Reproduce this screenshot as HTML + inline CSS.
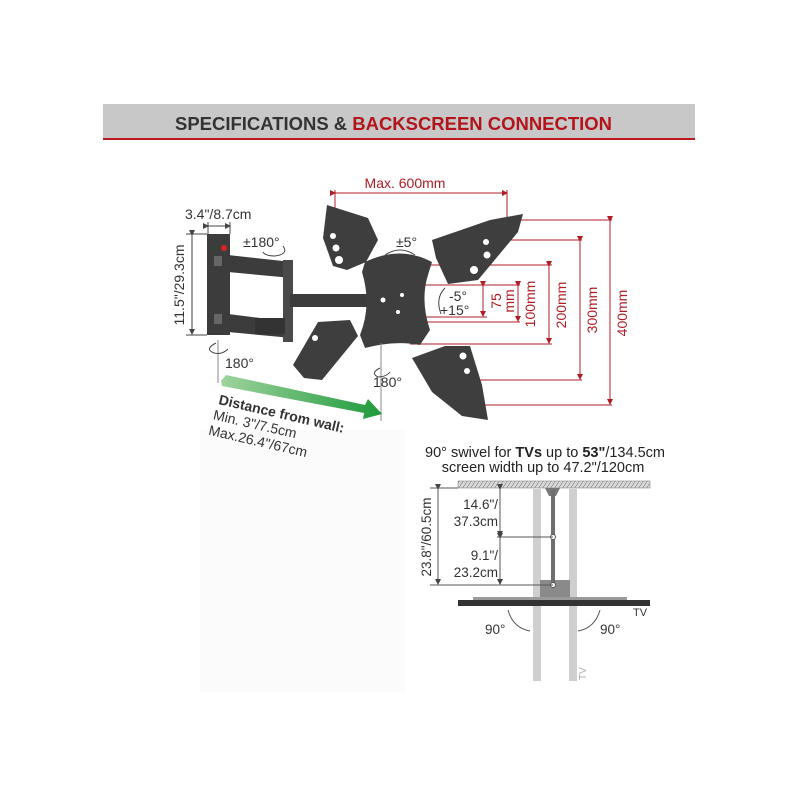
<!DOCTYPE html>
<html><head><meta charset="utf-8"><style>
html,body{margin:0;padding:0;background:#fff}
svg{display:block}
text{font-family:"Liberation Sans",sans-serif}
</style></head><body>
<svg width="800" height="800" viewBox="0 0 800 800" xmlns="http://www.w3.org/2000/svg">
<defs>
<linearGradient id="g" x1="0" y1="0" x2="1" y2="0"><stop offset="0" stop-color="#9fd39f"/><stop offset="1" stop-color="#1e9a3a"/></linearGradient>
<pattern id="h" width="4" height="6" patternUnits="userSpaceOnUse"><rect width="4" height="6" fill="#d8d8d8"/><path d="M0 6 L4 0" stroke="#888" stroke-width="0.7"/></pattern>
<marker id="ar" markerWidth="6" markerHeight="6" refX="5" refY="3" orient="auto"><path d="M0 0 L6 3 L0 6z" fill="#b01c24"/></marker>
<marker id="ak" markerWidth="6" markerHeight="6" refX="5" refY="3" orient="auto"><path d="M0 0 L6 3 L0 6z" fill="#444"/></marker>
</defs>
<rect x="103" y="104" width="592" height="35" fill="#c8c8c8"/>
<rect x="103" y="138" width="592" height="2" fill="#c0181f"/>
<text x="175" y="130" font-size="18" font-weight="bold" textLength="437" lengthAdjust="spacingAndGlyphs"><tspan fill="#333">SPECIFICATIONS &amp; </tspan><tspan fill="#b3141c">BACKSCREEN CONNECTION</tspan></text>

<rect x="200" y="430" width="205" height="262" fill="#fbfbfb"/>

<g stroke="#b01c24" stroke-width="1" fill="none">
<line x1="335" y1="193" x2="507" y2="193" marker-start="url(#ar)" marker-end="url(#ar)"/>
<line x1="335" y1="190" x2="335" y2="222"/>
<line x1="507" y1="190" x2="507" y2="220"/>
<line x1="507" y1="220" x2="612" y2="220"/>
<line x1="472" y1="240" x2="582" y2="240"/>
<line x1="425" y1="265" x2="552" y2="265"/>
<line x1="405" y1="285" x2="520" y2="285"/>
<line x1="405" y1="317" x2="487" y2="317"/>
<line x1="405" y1="322" x2="520" y2="322"/>
<line x1="410" y1="344" x2="552" y2="344"/>
<line x1="470" y1="380" x2="582" y2="380"/>
<line x1="480" y1="405" x2="612" y2="405"/>
<line x1="483" y1="286" x2="483" y2="316" marker-start="url(#ar)" marker-end="url(#ar)"/>
<line x1="518" y1="286" x2="518" y2="321" marker-start="url(#ar)" marker-end="url(#ar)"/>
<line x1="549" y1="266" x2="549" y2="343" marker-start="url(#ar)" marker-end="url(#ar)"/>
<line x1="580" y1="241" x2="580" y2="379" marker-start="url(#ar)" marker-end="url(#ar)"/>
<line x1="610" y1="221" x2="610" y2="404" marker-start="url(#ar)" marker-end="url(#ar)"/>
</g>
<g fill="#b01c24" font-size="14">
<text x="405" y="188" text-anchor="middle" font-size="14">Max. 600mm</text>
<text transform="translate(501,301) rotate(-90)" text-anchor="middle">75</text>
<text transform="translate(514,301) rotate(-90)" text-anchor="middle">mm</text>
<text transform="translate(535,304) rotate(-90)" text-anchor="middle">100mm</text>
<text transform="translate(566,305) rotate(-90)" text-anchor="middle">200mm</text>
<text transform="translate(597,310) rotate(-90)" text-anchor="middle">300mm</text>
<text transform="translate(627,313) rotate(-90)" text-anchor="middle">400mm</text>
</g>

<g fill="#3c3c3c">
<rect x="207" y="234" width="23" height="101"/>
<polygon points="228,255 292,262 292,278 228,272"/>
<polygon points="228,314 292,322 292,338 228,332"/>
<rect x="283" y="260" width="10" height="82" fill="#4a4a4a"/>
<rect x="290" y="294" width="92" height="13"/>
<rect x="255" y="318" width="30" height="16" fill="#333"/>
</g>
<rect x="214" y="256" width="8" height="10" fill="#666"/>
<rect x="214" y="314" width="8" height="10" fill="#666"/>
<circle cx="224" cy="248" r="3" fill="#d22"/>

<g fill="#3e3e3e">
<polygon points="327,205 368,218 378,240 366,262 347,270 333,266 323,238"/>
<polygon points="432,240 490,220 523,214 518,232 478,280 448,284 436,258"/>
<polygon points="293,365 318,322 350,320 358,336 322,380 304,378"/>
<polygon points="412,358 445,346 470,346 482,385 488,420 462,416 432,392"/>
<path d="M365,262 Q400,245 432,262 L428,275 Q420,300 430,330 L420,345 Q395,340 365,348 L360,335 Q372,305 362,272 Z"/>
</g>
<g fill="#fff">
<circle cx="333" cy="236" r="3"/><circle cx="336" cy="248" r="3.5"/><circle cx="339" cy="260" r="4"/>
<circle cx="486" cy="242" r="3"/><circle cx="487" cy="255" r="3.5"/><circle cx="474" cy="270" r="4"/>
<circle cx="315" cy="338" r="3"/><circle cx="463" cy="356" r="3.5"/><circle cx="467" cy="371" r="3"/>
<circle cx="383" cy="300" r="2.5"/><circle cx="402" cy="295" r="2"/><circle cx="398" cy="312" r="2"/>
</g>

<g stroke="#444" stroke-width="1" fill="none">
<line x1="192" y1="235" x2="192" y2="334" marker-start="url(#ak)" marker-end="url(#ak)"/>
<line x1="186" y1="234" x2="207" y2="234"/><line x1="186" y1="335" x2="207" y2="335"/>
<line x1="208" y1="226" x2="230" y2="226" marker-start="url(#ak)" marker-end="url(#ak)"/>
<line x1="208" y1="222" x2="208" y2="234"/><line x1="230" y1="222" x2="230" y2="234"/>
<line x1="218" y1="340" x2="218" y2="383" stroke="#888"/>
<line x1="381" y1="343" x2="381" y2="421" stroke="#888"/>
<path d="M216 343 q-12 6 -2 10 q8 2 14 -4"/>
<path d="M283 246 q6 8 -8 10 q-10 0 -12 -4"/>
<path d="M380 368 q-10 5 -2 9 q8 0 12 -5"/>
<path d="M385 255 q15 -10 30 0"/>
<path d="M445 288 q-10 10 -4 26"/>
</g>
<g fill="#333" font-size="14">
<text x="185" y="219">3.4"/8.7cm</text>
<text transform="translate(184,285) rotate(-90)" text-anchor="middle">11.5"/29.3cm</text>
<text x="243" y="247">±180°</text>
<text x="396" y="247">±5°</text>
<text x="449" y="301">-5°</text>
<text x="440" y="315">+15°</text>
<text x="225" y="368">180°</text>
<text x="373" y="387">180°</text>
</g>

<polygon points="221,381 226,375 365,405 368,399 382,414 363,419 364,413 222,386" fill="url(#g)"/>
<g transform="translate(218,404) rotate(13)" fill="#333" font-size="14">
<text x="0" y="0" font-weight="bold">Distance from wall:</text>
<text x="-2" y="16">Min. 3"/7.5cm</text>
<text x="-3" y="32">Max.26.4"/67cm</text>
</g>

<g fill="#222" font-size="14.5" text-anchor="middle">
<text x="545" y="457">90° swivel for <tspan font-weight="bold">TVs</tspan> up to <tspan font-weight="bold">53"</tspan>/134.5cm</text>
<text x="543" y="472">screen width up to 47.2"/120cm</text>
</g>
<rect x="458" y="481" width="192" height="7" fill="url(#h)" stroke="#888" stroke-width="0.6"/>
<rect x="533" y="489" width="8" height="192" fill="#cfcfcf"/>
<rect x="569" y="489" width="8" height="192" fill="#cfcfcf"/>
<rect x="540" y="580" width="30" height="20" fill="#8a8a8a"/>
<path d="M545 488 h15 l-4 8 h-7z" fill="#777"/>
<rect x="551" y="490" width="4" height="95" fill="#6e6e6e"/>
<circle cx="553" cy="537" r="2.5" fill="#fff" stroke="#555"/>
<circle cx="553" cy="585" r="2.5" fill="#fff" stroke="#555"/>
<rect x="473" y="597" width="154" height="4" fill="#9a9a9a"/>
<rect x="458" y="600" width="192" height="6" fill="#333"/>
<g stroke="#555" stroke-width="1" fill="none">
<line x1="438" y1="489" x2="438" y2="584" marker-start="url(#ak)" marker-end="url(#ak)"/>
<line x1="430" y1="488" x2="458" y2="488"/><line x1="430" y1="585" x2="553" y2="585"/>
<line x1="500" y1="489" x2="500" y2="536" marker-start="url(#ak)" marker-end="url(#ak)"/>
<line x1="500" y1="538" x2="500" y2="584" marker-start="url(#ak)" marker-end="url(#ak)"/>
<line x1="497" y1="537" x2="553" y2="537"/>
<path d="M508 610 q5 18 22 21"/>
<path d="M600 610 q-5 18 -22 21"/>
</g>
<g fill="#333" font-size="13.5">
<text transform="translate(431,537) rotate(-90)" text-anchor="middle">23.8"/60.5cm</text>
<text x="498" y="509" text-anchor="end">14.6"/</text>
<text x="498" y="526" text-anchor="end">37.3cm</text>
<text x="498" y="560" text-anchor="end">9.1"/</text>
<text x="498" y="577" text-anchor="end">23.2cm</text>
<text x="485" y="634">90°</text>
<text x="600" y="634">90°</text>
<text x="633" y="616" font-size="11">TV</text>
<text transform="translate(586,680) rotate(-90)" font-size="10" fill="#aaa">TV</text>
</g>
</svg>
</body></html>
